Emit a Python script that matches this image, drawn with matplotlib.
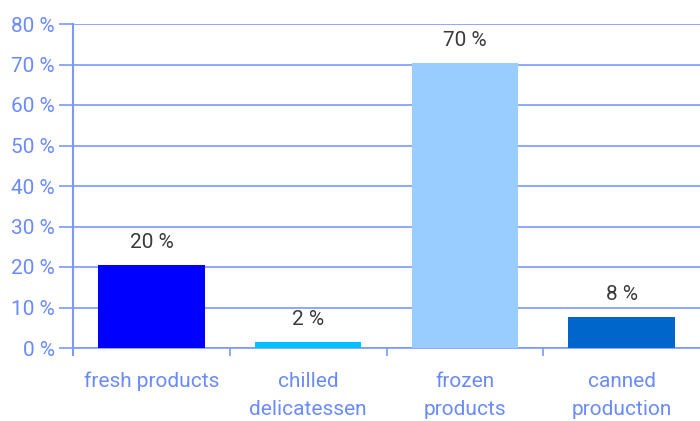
import numpy as np
import matplotlib.pyplot as plt

categories = ["fresh products", "chilled\ndelicatessen", "frozen\nproducts", "canned\nproduction"]
values = [20.5, 1.5, 70.4, 7.7]
labels = ["20 %", "2 %", "70 %", "8 %"]
colors = ["#0000FF", "#00C0FF", "#99CCFF", "#0066CC"]

axis_col = "#7C99FF"
text_col = "#6A8BFF"

plt.rcParams["font.family"] = ["Roboto", "DejaVu Sans"]

fig = plt.figure(figsize=(7, 4.21), dpi=100)
ax = fig.add_axes([73 / 700, 1 - 348 / 421, 627 / 700, 324 / 421])

x = np.arange(len(categories))
ax.bar(x, values, width=0.68, color=colors, zorder=3)
for xi, v, lab in zip(x, values, labels):
    ax.text(xi, v + 3.2, lab, ha="center", va="bottom", fontsize=15,
            color="#3A3A3A")

ax.set_xlim(-0.5, len(categories) - 0.5)
ax.set_ylim(0, 80)
ax.set_yticks(np.arange(0, 81, 10))
ax.set_yticklabels([f"{v} %" for v in range(0, 81, 10)])
ax.yaxis.grid(True, color=axis_col, linewidth=1.2, zorder=0)

ax.set_xticks(x)
ax.set_xticklabels(categories, linespacing=1.6)
ax.set_xticks(np.arange(0.5, len(categories) - 0.5, 1), minor=True)
ax.tick_params(axis="x", which="major", length=0, pad=17, labelsize=15,
               labelcolor=text_col)
ax.tick_params(axis="x", which="minor", length=6, color=axis_col, width=1.2)
ax.tick_params(axis="y", length=10, color=axis_col, width=1.2, labelsize=15,
               labelcolor=text_col, pad=3)

for s in ["top", "right"]:
    ax.spines[s].set_visible(False)
ax.spines["left"].set_color(axis_col)
ax.spines["left"].set_linewidth(1.5)
ax.spines["left"].set_bounds(-1.7, 80)
ax.spines["bottom"].set_color(axis_col)
ax.spines["bottom"].set_linewidth(1.2)

fig.savefig("out.png", dpi=100)
